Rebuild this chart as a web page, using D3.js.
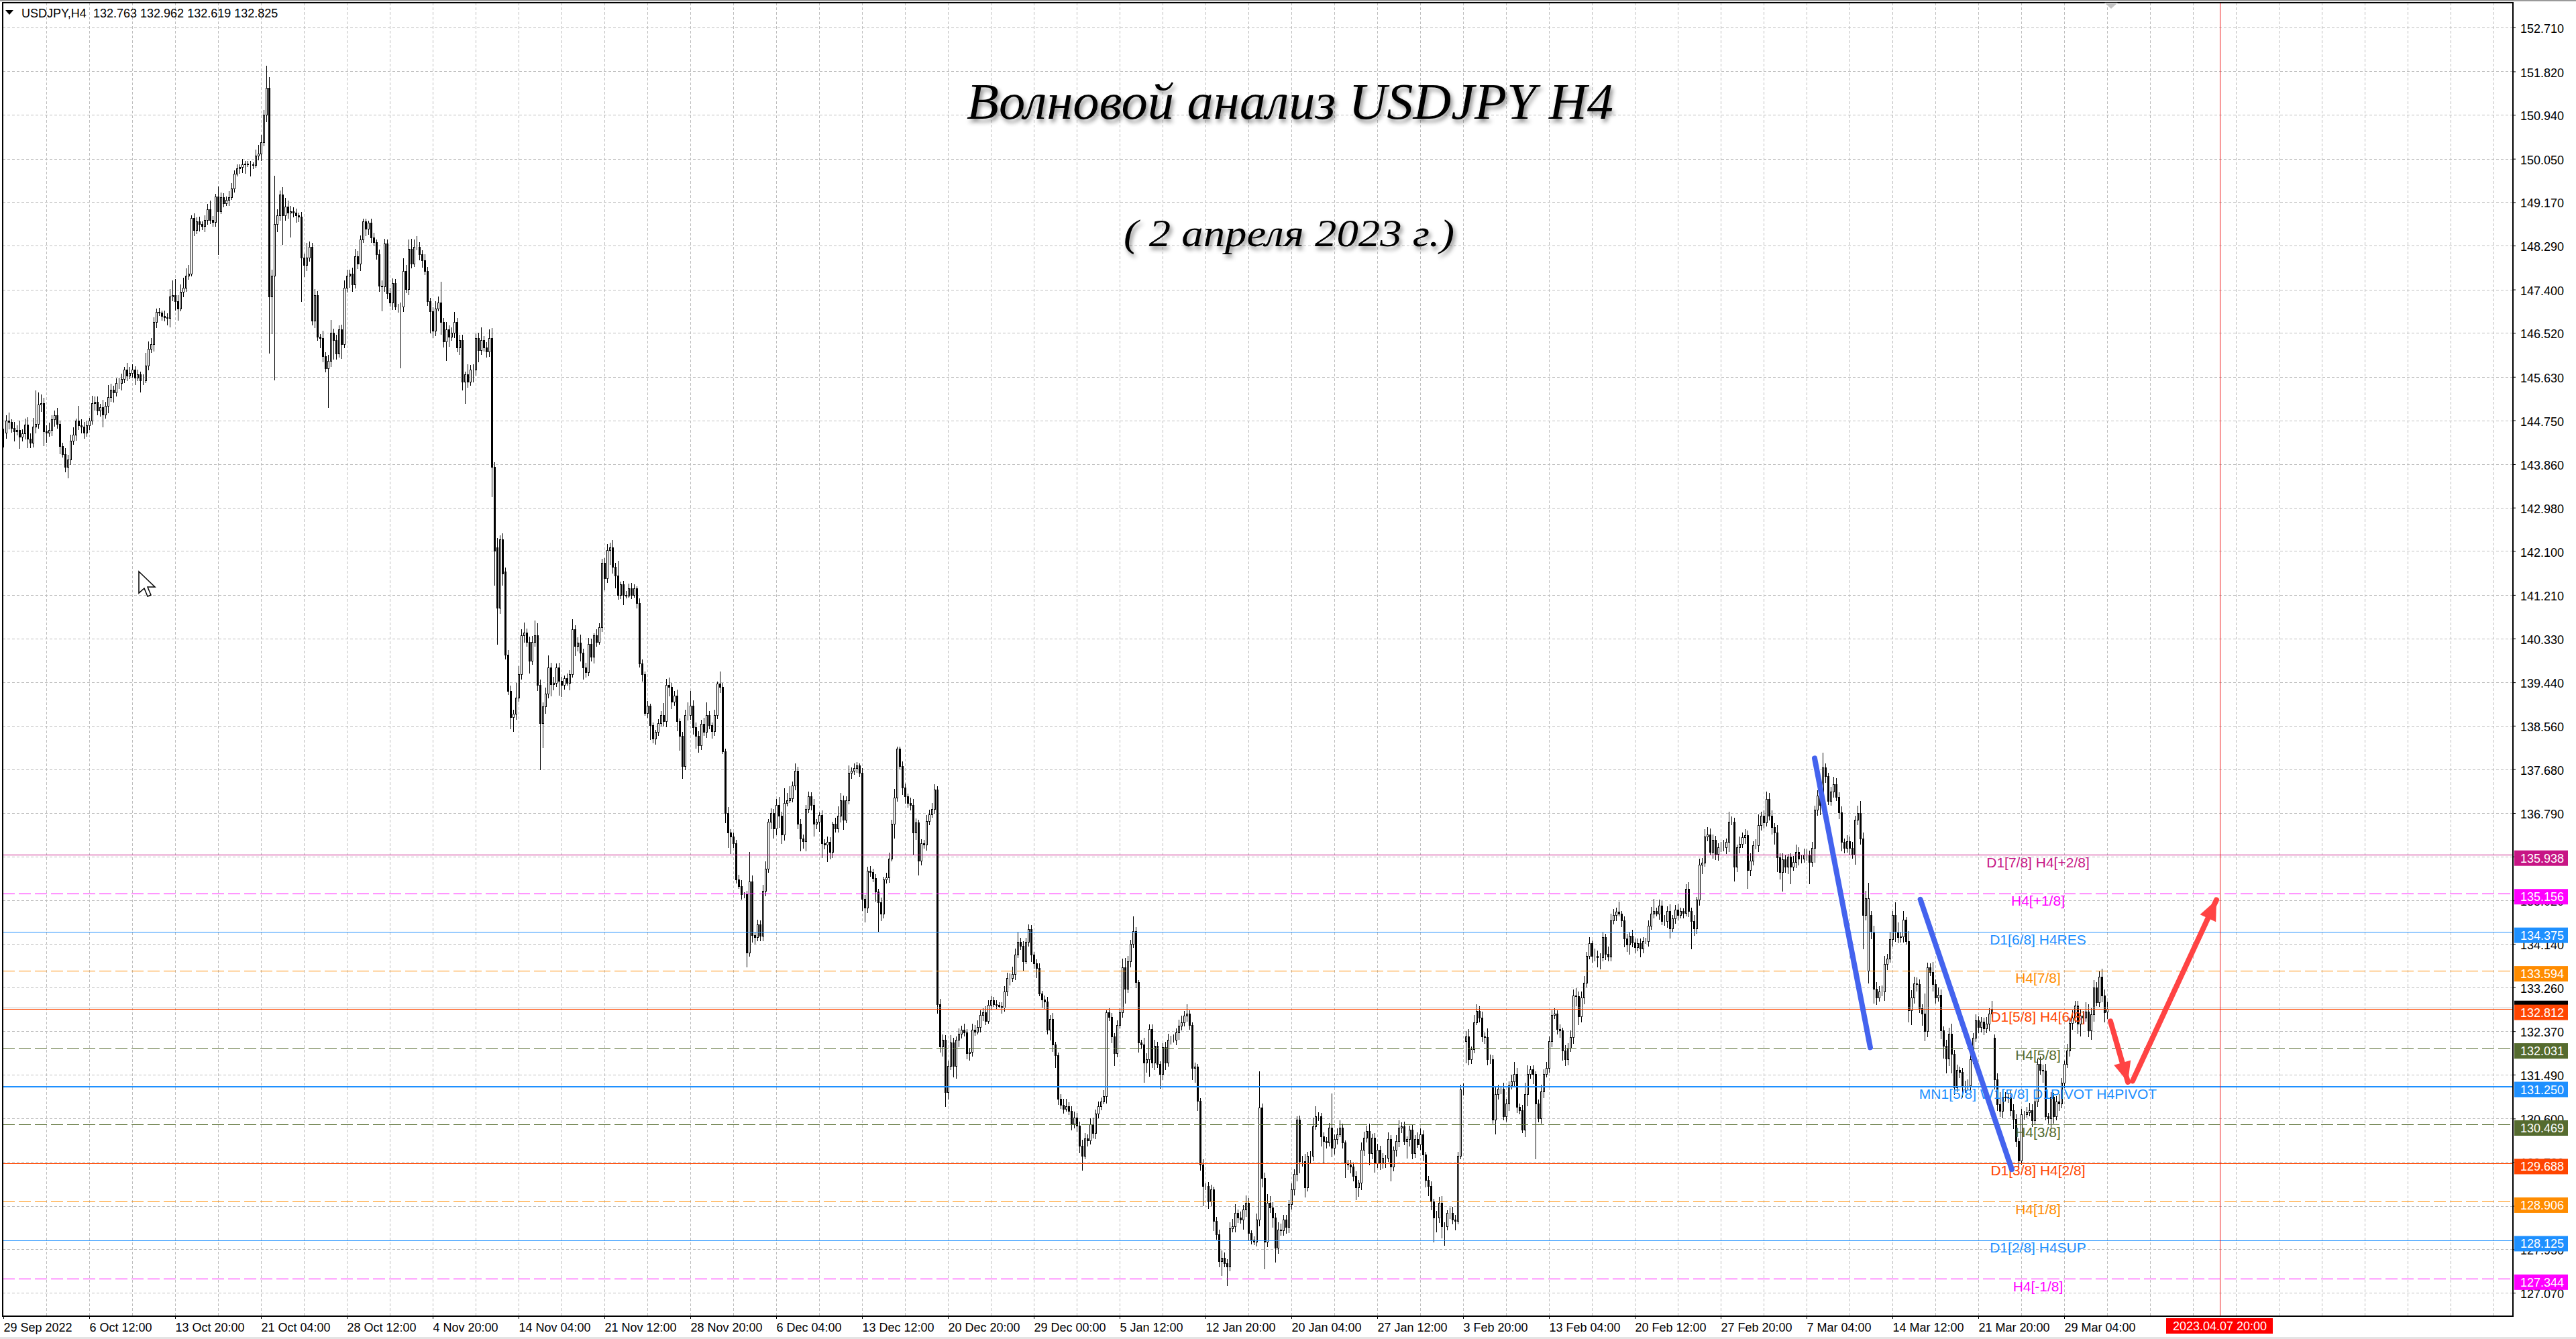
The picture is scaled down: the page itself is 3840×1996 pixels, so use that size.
<!DOCTYPE html>
<html>
<head>
<meta charset="utf-8">
<script src="https://cdn.jsdelivr.net/npm/d3@7"></script>
<style>
  html, body { margin: 0; padding: 0; background: #fff; overflow: hidden; }
  text { font-family: "Liberation Sans", sans-serif; }
  .title { font-family: "Liberation Serif", serif; font-style: italic; filter: drop-shadow(3px 5px 3px rgba(0,0,0,.45)); }
</style>
</head>
<body>
<svg id="chart" width="3840" height="1996"></svg>
<script>
// closing price of every H4 bar, 16 bars per row
const closes = [
144.50,144.75,144.72,144.60,144.52,144.55,144.42,144.48,144.66,144.38,144.30,144.62,144.68,145.07,145.10,144.53,
144.50,144.55,144.77,144.85,144.68,144.22,144.07,143.80,143.95,144.34,144.46,144.74,144.65,144.62,144.50,144.65,
144.74,145.10,145.13,144.95,145.01,144.86,145.04,145.22,145.37,145.31,145.50,145.50,145.59,145.77,145.65,145.71,
145.77,145.62,145.68,145.56,145.56,145.86,146.20,146.29,146.74,146.95,146.93,146.87,146.84,146.83,147.26,147.29,
147.17,147.02,147.35,147.44,147.68,147.72,148.85,148.60,148.78,148.72,148.69,148.81,149.02,148.81,148.77,149.29,
148.99,149.27,149.15,149.21,149.27,149.45,149.75,149.85,149.88,149.94,149.95,149.94,149.94,149.92,150.12,150.15,
150.39,150.94,151.49,147.26,147.68,148.72,148.90,149.33,148.90,149.08,148.96,148.99,148.96,148.90,148.87,148.05,
147.90,148.05,148.27,146.77,147.29,146.44,146.41,146.05,145.80,145.95,146.53,146.38,146.10,146.59,146.29,147.44,
147.68,147.72,147.50,148.08,147.93,148.42,148.78,148.63,148.75,148.45,148.36,148.11,147.47,147.46,148.33,147.32,
147.14,147.53,147.05,147.05,147.05,147.78,147.41,148.23,147.93,148.26,148.26,148.11,147.99,147.78,147.17,146.96,
146.56,147.02,147.14,146.74,146.35,146.59,146.44,146.53,146.74,146.23,146.38,145.53,145.68,145.53,145.77,145.77,
146.41,146.17,146.38,146.23,146.14,146.41,143.80,142.10,140.95,142.34,141.65,140.00,139.26,138.74,138.80,139.13,
139.61,140.39,140.45,140.26,139.87,140.26,140.39,139.39,138.61,138.95,139.21,139.74,139.40,139.43,139.74,139.47,
139.39,139.52,139.43,139.61,140.52,140.17,140.25,140.04,139.74,139.65,140.22,139.96,140.39,140.26,140.56,141.86,
141.55,142.12,142.17,141.78,141.60,141.21,141.43,141.21,141.20,141.34,141.21,141.34,141.04,139.82,139.61,138.82,
138.96,138.57,138.30,138.43,138.61,138.77,138.65,139.39,139.35,139.05,139.17,138.65,138.35,137.74,138.78,138.78,
138.96,138.53,138.35,138.17,138.60,138.43,138.78,138.57,138.45,138.78,139.41,139.35,138.04,136.79,136.39,136.31,
136.18,135.44,135.31,135.14,135.14,133.96,135.40,134.31,134.27,134.53,134.30,135.22,135.66,136.61,136.79,136.48,
136.96,136.74,136.35,137.00,137.05,137.09,137.35,137.65,136.57,136.27,136.22,136.87,137.13,136.96,136.57,136.61,
136.75,136.18,136.15,136.20,136.00,136.57,136.48,136.74,137.05,136.65,137.05,137.60,137.65,137.70,137.75,137.60,
135.05,134.88,135.62,135.60,135.47,135.20,134.98,134.75,135.44,135.48,135.87,136.57,137.10,138.09,137.74,137.31,
137.13,137.00,136.96,136.39,136.60,135.83,136.18,136.15,136.63,136.76,136.87,137.26,132.92,132.06,132.19,131.14,
131.66,132.14,131.66,132.19,132.32,132.40,132.35,131.92,131.95,132.40,132.36,132.45,132.70,132.75,132.58,132.90,
133.00,132.92,132.90,132.88,132.85,133.18,133.44,133.44,133.53,133.92,134.18,134.10,133.79,134.18,134.44,133.92,
133.75,133.65,133.14,133.01,132.97,132.40,132.62,132.10,131.88,131.00,130.88,130.80,130.85,130.75,130.50,130.62,
130.45,130.05,129.85,130.20,130.15,130.48,130.30,130.70,130.85,130.95,131.05,132.75,132.66,132.27,131.92,132.49,
132.75,133.66,133.23,133.79,134.14,134.40,133.36,132.14,132.10,131.73,131.80,132.41,131.73,132.07,131.70,131.50,
132.05,131.73,132.20,132.20,132.20,132.34,132.48,132.55,132.68,132.72,132.50,131.63,131.65,130.96,129.67,129.23,
129.23,128.92,129.16,128.52,128.25,127.71,127.78,127.67,127.60,128.38,128.42,128.69,128.59,128.55,128.75,128.89,
128.28,128.15,128.11,128.55,130.82,129.40,128.11,128.89,128.79,128.59,127.98,128.35,128.33,128.55,128.40,128.86,
129.16,129.47,130.58,129.74,129.74,129.20,129.84,129.84,130.44,130.65,130.65,130.24,130.14,130.11,130.41,130.01,
130.18,130.28,130.41,130.11,129.70,129.66,129.63,129.43,129.20,129.30,129.97,130.21,130.35,129.90,130.21,129.70,
129.97,129.70,129.80,129.80,130.18,129.63,129.97,130.14,130.41,130.44,130.14,130.18,130.38,129.90,130.18,130.08,
130.28,129.87,129.36,129.23,128.92,128.59,128.59,128.89,128.42,128.42,128.69,128.69,128.55,128.52,129.84,131.19,
131.19,132.27,131.80,132.00,132.55,132.78,132.65,132.27,132.25,131.80,131.80,130.58,131.10,131.20,131.20,130.65,
130.90,131.27,131.35,131.50,130.83,130.77,130.37,131.10,131.50,131.60,131.50,130.90,130.60,131.15,131.50,131.63,
132.17,132.70,132.72,132.41,132.38,131.98,131.80,132.03,132.25,133.09,133.08,132.67,133.05,133.35,133.90,134.15,
133.90,133.90,133.87,133.87,134.27,133.93,133.88,134.61,134.72,134.79,134.75,134.62,134.25,134.12,134.30,134.17,
134.07,134.15,134.05,134.20,134.20,134.50,134.75,134.80,134.75,134.91,134.60,134.60,134.80,134.45,134.65,134.83,
134.73,134.80,134.76,135.25,134.80,134.60,134.45,135.03,135.74,135.78,136.32,136.36,136.00,136.25,135.96,136.10,
136.10,136.10,136.20,136.62,136.62,135.70,136.10,136.17,136.30,136.34,135.63,135.83,136.14,136.14,136.54,136.74,
136.60,137.08,136.74,136.50,136.40,135.89,135.60,135.85,135.70,135.90,135.70,135.80,136.00,135.87,135.87,135.95,
135.95,135.80,136.08,136.86,137.15,136.95,137.72,137.54,137.04,137.22,137.38,137.11,136.81,136.20,136.09,136.22,
136.09,135.95,136.65,136.79,136.27,134.73,135.07,135.07,134.38,133.23,133.05,133.18,133.18,133.73,133.84,134.23,
134.73,134.38,134.27,134.29,134.63,134.20,132.80,133.05,133.34,133.32,132.84,132.73,132.37,133.66,133.57,133.32,
133.05,133.11,132.39,132.07,131.82,132.32,131.91,131.23,131.59,131.54,131.27,131.27,131.27,131.80,132.23,132.59,
132.45,132.56,132.43,132.52,132.72,132.81,131.39,130.89,130.75,131.04,131.02,131.04,130.77,130.59,130.14,129.75,
130.68,130.68,130.73,130.77,130.57,130.95,131.70,131.59,131.57,130.64,130.61,131.04,130.64,130.95,130.91,131.32,
131.70,131.98,132.54,132.64,132.89,132.52,132.68,132.64,132.77,132.39,132.71,133.25,132.96,133.48,133.09,132.75,
132.825];

// bars that do not open at the previous close: [bar, open]
const openGaps = [[184,142.18],[187,141.69],[545,132.17],[695,133.59],[696,134.73],[742,132.23],[784,132.763]];

// wick lengths above and below the body, in hundredths of a yen
const upperWick = [
8,10,15,5,12,10,20,8,12,15,10,18,67,25,18,10,
12,15,8,10,15,6,8,12,10,12,15,5,30,12,10,10,
6,14,10,10,8,15,8,25,12,8,10,12,10,6,14,12,
12,8,10,6,12,25,15,12,10,6,8,4,10,8,15,30,
32,12,15,20,15,18,6,10,8,10,6,10,12,18,8,5,
20,10,8,8,12,10,6,8,5,10,6,5,6,4,12,18,
15,10,45,21,12,98,12,8,14,18,12,10,8,8,6,10,
8,30,10,8,12,8,6,15,8,12,25,8,10,8,10,15,
12,8,12,15,10,8,6,6,5,8,10,5,10,12,10,8,
12,10,8,6,8,25,12,18,20,16,22,10,8,12,8,6,
8,14,12,42,8,15,8,10,20,8,10,10,6,20,10,12,
10,12,25,8,10,18,21,10,18,8,12,8,10,12,8,30,
16,12,20,8,10,12,30,25,10,8,12,25,10,12,8,10,
8,6,10,8,20,8,10,15,8,10,12,10,5,12,8,8,
10,12,10,15,8,30,5,6,8,10,12,8,5,10,8,5,
10,5,6,4,8,8,25,12,15,8,10,12,6,8,10,25,
30,12,10,10,8,12,25,8,6,10,5,25,8,6,12,8,
8,6,10,12,5,8,60,12,8,10,8,12,15,6,10,8,
12,15,8,30,15,25,8,15,8,10,8,8,10,8,12,6,
5,10,8,12,10,5,12,18,15,10,8,15,6,10,8,5,
10,8,8,10,6,8,5,10,6,10,12,8,18,5,5,10,
8,5,10,12,8,6,8,6,12,10,12,12,8,10,12,10,
12,15,10,8,10,8,12,6,8,12,10,14,10,8,12,10,
8,6,8,5,8,10,12,10,15,12,20,8,10,8,10,8,
6,8,10,5,8,10,8,12,6,6,10,12,15,8,10,12,
10,8,12,10,8,12,14,8,10,8,12,5,8,8,6,10,
8,18,20,10,8,30,8,5,6,14,12,10,10,12,8,6,
8,10,12,8,10,8,12,14,10,20,8,5,8,6,5,10,
5,8,10,6,8,10,14,10,8,12,14,18,6,12,10,15,
10,5,6,12,74,8,10,18,14,12,10,15,12,10,10,8,
12,10,6,8,10,15,8,10,18,20,8,6,8,8,10,70,
10,12,15,8,5,6,10,8,10,6,15,12,10,14,8,10,
12,8,10,6,14,8,6,12,15,8,10,6,8,10,8,14,
12,8,6,8,10,6,14,12,14,8,5,10,12,10,8,10,
12,10,14,6,15,14,10,12,8,18,10,8,15,8,6,12,
10,8,14,25,12,8,10,22,18,6,8,6,8,14,10,12,
10,10,12,8,10,6,10,10,14,12,15,10,12,14,8,12,
6,14,10,8,10,8,15,14,12,8,20,6,8,10,8,12,
8,10,10,8,6,12,14,25,8,12,10,12,10,14,8,10,
12,8,6,10,14,8,12,6,12,10,14,15,12,10,8,8,
10,14,8,20,10,8,5,14,10,12,10,14,8,12,22,8,
10,14,12,10,8,14,8,12,10,6,8,12,15,10,8,12,
10,8,12,8,10,20,30,8,6,10,14,12,10,12,8,12,
10,12,8,15,25,12,15,30,8,12,14,10,12,16,10,14,
8,25,20,10,18,5,20,15,14,12,10,8,40,10,8,20,
10,14,10,8,12,12,20,8,10,6,8,10,12,12,10,12,
8,10,8,14,12,18,8,12,25,14,10,8,15,12,10,6,
12,8,10,15,12,8,12,16,10,14,8,10,8,10,14,10,
8,14,10,16,10,10,14,10,18,14,12,15,12,11,15,12,
14];

const lowerWick = [
30,12,15,10,20,8,25,10,12,20,12,10,14,10,15,30,
20,8,12,15,10,15,8,10,22,10,8,12,10,14,12,8,
10,8,15,10,12,25,8,15,10,20,8,12,14,8,10,6,
10,15,8,25,10,6,10,8,14,12,6,10,8,15,20,10,
20,25,6,10,8,8,6,12,8,14,8,12,10,8,10,10,
89,6,8,6,12,5,8,6,10,12,20,6,25,8,5,10,
15,8,15,116,76,212,15,10,60,10,12,50,10,15,10,90,
25,12,8,10,15,8,20,12,8,80,12,40,12,8,30,8,
10,25,15,8,12,15,8,15,12,10,8,10,12,50,10,12,
8,15,6,12,125,10,8,12,10,8,6,12,15,8,10,45,
15,10,6,25,12,40,20,8,12,10,15,18,45,12,8,25,
12,25,10,8,12,10,60,70,75,12,25,10,8,25,30,12,
8,12,15,10,25,8,10,12,95,50,15,10,25,12,8,30,
25,10,6,15,8,20,10,18,25,12,8,10,14,10,6,10,
25,10,30,14,25,10,8,20,6,5,8,6,10,8,15,6,
10,30,10,12,8,6,10,12,20,15,8,20,30,26,8,12,
10,15,25,15,10,8,12,8,15,10,8,12,6,20,30,35,
10,8,6,10,8,30,8,15,14,8,10,10,12,8,15,20,
14,25,18,12,8,6,8,10,10,25,15,20,8,12,25,10,
20,30,10,35,15,12,8,8,14,20,6,8,12,8,10,8,
25,30,12,10,8,20,60,15,10,8,10,6,30,8,6,15,
15,10,12,45,15,30,10,8,12,8,6,10,20,12,20,30,
15,8,22,25,14,10,8,12,14,10,8,6,10,12,8,6,
10,6,8,5,12,8,10,14,8,12,6,8,20,6,10,15,
12,20,6,18,15,10,22,15,25,12,8,10,6,8,14,10,
12,15,30,8,12,8,10,12,10,8,6,14,8,14,25,8,
6,10,30,8,12,8,12,20,10,40,20,35,10,15,8,30,
12,15,8,10,6,12,14,10,8,12,10,25,30,20,12,40,
8,15,10,20,10,12,30,8,40,10,8,12,10,8,20,14,
15,10,8,10,14,20,57,12,10,20,30,12,10,10,14,12,
10,12,15,25,12,20,8,14,10,6,10,20,45,12,8,20,
14,10,6,12,30,10,14,10,25,18,15,12,10,25,12,20,
10,14,12,20,8,30,10,14,12,10,8,35,14,12,10,8,
12,14,15,20,18,50,30,10,25,40,8,12,10,18,6,6,
12,45,12,10,8,6,10,12,14,12,10,8,30,12,10,8,
12,14,8,10,12,8,6,14,25,10,20,112,8,10,14,6,
10,12,8,10,15,20,14,12,8,14,20,18,12,14,10,8,
14,12,20,25,8,12,10,10,8,12,6,14,18,15,20,10,
12,8,18,10,6,12,8,10,6,12,8,10,14,20,8,10,
12,8,10,6,12,57,15,10,12,18,8,10,6,14,12,14,
10,8,14,20,8,30,10,12,8,14,38,12,10,8,14,10,
12,8,10,14,25,30,15,40,12,15,35,8,12,14,10,8,
12,45,10,30,12,20,8,14,8,10,12,8,14,18,12,10,
15,8,20,10,12,70,12,25,15,30,15,8,10,20,12,8,
14,20,12,10,12,8,25,30,12,15,10,25,20,12,8,14,
12,8,18,25,30,15,40,15,10,12,25,15,8,12,10,8,
12,10,14,10,15,8,20,14,12,15,8,10,12,20,12,15,
8,10,6,8,14,10,12,10,25,8,12,20,14,8,15,10,
10,8,12,14,10,20,25,12,8,14,20,15,8,10,14,20,
14];

const priceTicks = [152.71,151.82,150.94,150.05,149.17,148.29,147.40,146.52,145.63,144.75,143.86,142.98,142.10,141.21,140.33,139.44,138.56,137.68,136.79,135.91,135.02,134.14,133.26,132.37,131.49,130.60,129.72,128.83,127.95,127.07];

const timeLabels = ['29 Sep 2022','6 Oct 12:00','13 Oct 20:00','21 Oct 04:00','28 Oct 12:00','4 Nov 20:00','14 Nov 04:00','21 Nov 12:00','28 Nov 20:00','6 Dec 04:00','13 Dec 12:00','20 Dec 20:00','29 Dec 00:00','5 Jan 12:00','12 Jan 20:00','20 Jan 04:00','27 Jan 12:00','3 Feb 20:00','13 Feb 04:00','20 Feb 12:00','27 Feb 20:00','7 Mar 04:00','14 Mar 12:00','21 Mar 20:00','29 Mar 04:00'];

const levelValues = [135.938,135.156,134.375,133.594,132.812,132.031,131.250,130.469,129.688,128.906,128.125,127.344];
const levelNames = ['D1[7/8] H4[+2/8]','H4[+1/8]','D1[6/8] H4RES','H4[7/8]','D1[5/8] H4[6/8]','H4[5/8]','MN1[5/8] W1[5/8] D1PIVOT H4PIVOT','H4[3/8]','D1[3/8] H4[2/8]','H4[1/8]','D1[2/8] H4SUP','H4[-1/8]'];
const levelColors = ['#c71585','#ff00ff','#1e90ff','#ff8c00','#ff4500','#556b2f','#1e90ff','#556b2f','#ff4500','#ff8c00','#1e90ff','#ff00ff'];
const levelDashed = [false,true,false,true,false,true,false,true,false,true,false,true];
const levelWidths = [1,1,1,1,1.5,1,2,1,1,1,1,1];

// hand drawn annotations as [bar, price] pairs
const blueStrokes = [[[675,137.90],[695.75,132.04]],[[714.4,135.04],[748.5,129.57]]];
const redArrows = [[[785.25,132.57],[791.75,131.34]],[[793.5,131.36],[824.75,135.03]]];

const lastPrice = 132.825;
const futureBar = 826;
const futureLabel = '2023.04.07 20:00';

const svg = d3.select('#chart');
const plot = { left: 4, top: 4, right: 3746, bottom: 1962 };

const x = d3.scaleLinear().domain([0, 1]).range([5, 9]);
const y = d3.scaleLinear().domain([127.07, 152.71]).range([1927, 41]);

svg.append('rect').attr('width', 3840).attr('height', 1996).attr('fill', '#fff');
svg.append('rect').attr('width', 3840).attr('height', 2).attr('fill', '#9a9a9a');
svg.append('rect').attr('y', 1993).attr('width', 3840).attr('height', 3).attr('fill', '#e4e4e4');

// grid
const gridColor = '#bdbdbd';
const grid = svg.append('g').attr('shape-rendering', 'crispEdges');
grid.selectAll('.h').data(priceTicks).enter().append('line')
    .attr('x1', plot.left).attr('x2', plot.right)
    .attr('y1', d => Math.round(y(d)) + .5).attr('y2', d => Math.round(y(d)) + .5)
    .attr('stroke', gridColor).attr('stroke-dasharray', '4 3');
grid.selectAll('.v').data(d3.range(1, 59)).enter().append('line')
    .attr('x1', d => x(d * 16) + .5).attr('x2', d => x(d * 16) + .5)
    .attr('y1', plot.top).attr('y2', plot.bottom)
    .attr('stroke', gridColor).attr('stroke-dasharray', '4 3');

// candles
const bars = closes.map((c, i) => {
    const gap = openGaps.find(g => g[0] === i);
    const o = gap ? gap[1] : (i ? closes[i - 1] : c);
    return {
        i, o, c,
        h: Math.max(o, c) + upperWick[i] / 100,
        l: Math.min(o, c) - lowerWick[i] / 100
    };
});

const candles = svg.append('g').attr('shape-rendering', 'crispEdges');
candles.selectAll('line').data(bars).enter().append('line')
    .attr('x1', d => x(d.i) + .5).attr('x2', d => x(d.i) + .5)
    .attr('y1', d => y(d.h)).attr('y2', d => y(d.l))
    .attr('stroke', '#000');
candles.selectAll('rect').data(bars).enter().append('rect')
    .attr('x', d => x(d.i) - .5)
    .attr('width', 2)
    .attr('y', d => Math.round(y(Math.max(d.o, d.c))) + .5)
    .attr('height', d => Math.max(0, Math.round(y(Math.min(d.o, d.c))) - Math.round(y(Math.max(d.o, d.c)))))
    .attr('fill', d => d.c >= d.o ? '#fff' : '#000')
    .attr('stroke', '#000');

// current price line
svg.append('line')
    .attr('x1', plot.left).attr('x2', plot.right)
    .attr('y1', y(lastPrice) - 1).attr('y2', y(lastPrice) - 1)
    .attr('stroke', '#c0c0c0').attr('shape-rendering', 'crispEdges');

// murrey levels
const levels = levelValues.map((v, i) => ({ v, name: levelNames[i], color: levelColors[i], dashed: levelDashed[i], w: levelWidths[i] }));

svg.append('g').selectAll('line').data(levels).enter().append('line')
    .attr('x1', plot.left).attr('x2', plot.right)
    .attr('y1', d => y(d.v)).attr('y2', d => y(d.v))
    .attr('stroke', d => d.color)
    .attr('stroke-width', d => d.w)
    .attr('stroke-dasharray', d => d.dashed ? '18 6' : null)
    .attr('shape-rendering', 'crispEdges');

svg.append('g').selectAll('text').data(levels).enter().append('text')
    .attr('x', 3038)
    .attr('y', d => y(d.v) + 18)
    .attr('text-anchor', 'middle')
    .attr('font-size', 21)
    .attr('fill', d => d.color)
    .text(d => d.name);

// future time marker
svg.append('line')
    .attr('x1', x(futureBar)).attr('x2', x(futureBar))
    .attr('y1', plot.top).attr('y2', plot.bottom)
    .attr('stroke', '#f01818').attr('shape-rendering', 'crispEdges');

// annotations
svg.append('g').selectAll('line').data(blueStrokes).enter().append('line')
    .attr('x1', d => x(d[0][0])).attr('y1', d => y(d[0][1]))
    .attr('x2', d => x(d[1][0])).attr('y2', d => y(d[1][1]))
    .attr('stroke', '#4463ee').attr('stroke-width', 8).attr('stroke-linecap', 'round');

const arrowLength = 30, arrowHalf = 13;
const arrows = svg.append('g').selectAll('g').data(redArrows).enter().append('g');
arrows.append('line')
    .attr('x1', d => x(d[0][0])).attr('y1', d => y(d[0][1]))
    .attr('x2', d => x(d[1][0])).attr('y2', d => y(d[1][1]))
    .attr('stroke', '#ff4343').attr('stroke-width', 8).attr('stroke-linecap', 'round');
arrows.append('path')
    .attr('fill', '#ff4343')
    .attr('d', d => {
        const tx = x(d[1][0]), ty = y(d[1][1]);
        const a = Math.atan2(ty - y(d[0][1]), tx - x(d[0][0]));
        const bx = tx - arrowLength * Math.cos(a), by = ty - arrowLength * Math.sin(a);
        const nx = -Math.sin(a) * arrowHalf, ny = Math.cos(a) * arrowHalf;
        return d3.line()([[tx, ty], [bx + nx, by + ny], [bx - nx, by - ny]]) + 'Z';
    });

// frame
svg.append('rect')
    .attr('x', plot.left).attr('y', plot.top)
    .attr('width', plot.right - plot.left).attr('height', plot.bottom - plot.top)
    .attr('fill', 'none').attr('stroke', '#000').attr('stroke-width', 1.5)
    .attr('shape-rendering', 'crispEdges');

// axes
const yAxis = d3.axisRight(y).tickValues(priceTicks).tickFormat(d3.format('.3f')).tickSize(4).tickPadding(7);
const yg = svg.append('g').attr('transform', `translate(${plot.right},0)`).call(yAxis);
yg.select('.domain').remove();
yg.selectAll('text').attr('font-size', 18).attr('font-family', '"Liberation Sans"').attr('fill', '#000').attr('dy', '.42em');

const xAxis = d3.axisBottom(x).tickValues(timeLabels.map((d, i) => i * 32))
    .tickFormat((d, i) => timeLabels[i]).tickSize(4).tickPadding(6);
const xg = svg.append('g').attr('transform', `translate(0,${plot.bottom})`).call(xAxis);
xg.select('.domain').remove();
xg.selectAll('text').attr('font-size', 18).attr('font-family', '"Liberation Sans"').attr('fill', '#000').attr('text-anchor', 'start');

// price badges
svg.append('rect').attr('x', 3748).attr('width', 80).attr('y', y(lastPrice) - 12).attr('height', 23).attr('fill', '#000');
const badges = svg.append('g').selectAll('g').data(levels).enter().append('g')
    .attr('transform', d => `translate(3748,${y(d.v) - 7})`);
badges.append('rect').attr('width', 80).attr('height', 23).attr('fill', d => d.color);
badges.append('text')
    .attr('x', 9).attr('y', 18)
    .attr('font-size', 18).attr('fill', '#fff')
    .text(d => d3.format('.3f')(d.v));

// future date badge
svg.append('rect').attr('x', x(futureBar) - 80).attr('y', 1965).attr('width', 159).attr('height', 23).attr('fill', '#ff0000');
svg.append('text').attr('x', x(futureBar)).attr('y', 1983).attr('text-anchor', 'middle')
    .attr('font-size', 18).attr('fill', '#fff').text(futureLabel);

// symbol header
svg.append('path').attr('d', 'M8,15H20L14,22Z').attr('fill', '#000');
svg.append('text').attr('x', 32).attr('y', 26).attr('font-size', 18).text('USDJPY,H4');
svg.append('text').attr('x', 139).attr('y', 26).attr('font-size', 18).text('132.763 132.962 132.619 132.825');

// chart shift marker
svg.append('path').attr('d', `M${x(785.5) - 10},4H${x(785.5) + 10}L${x(785.5)},13Z`).attr('fill', '#c4c4c4');

// title
svg.append('text').attr('class', 'title').attr('x', 1441).attr('y', 177)
    .attr('font-size', 76).attr('textLength', 964).attr('lengthAdjust', 'spacingAndGlyphs')
    .text('Волновой анализ USDJPY H4');
svg.append('text').attr('class', 'title').attr('x', 1675).attr('y', 367)
    .attr('font-size', 56).attr('textLength', 493).attr('lengthAdjust', 'spacingAndGlyphs')
    .text('( 2 апреля 2023 г.)');

// mouse pointer left on the screenshot
svg.append('path')
    .attr('transform', 'translate(207,852)')
    .attr('d', 'M0,0L24,23H13L18,35L13,37L8,25L0,32Z')
    .attr('fill', '#fff').attr('stroke', '#000').attr('stroke-width', 1.5);
</script>
</body>
</html>
